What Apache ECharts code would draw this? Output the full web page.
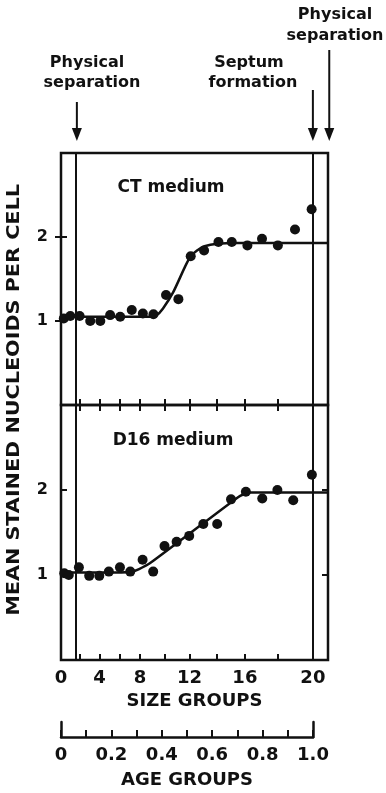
<!DOCTYPE html>
<html>
<head>
<meta charset="utf-8">
<script src="https://cdn.jsdelivr.net/npm/echarts@6/dist/echarts.min.js"></script>
<style>
html,body{margin:0;padding:0;background:#fff;}
#main{width:386px;height:793px;}
</style>
</head>
<body>
<div id="main"></div>
<script>
// ---- data (x in AGE GROUP units, the linear scale; y = mean nucleoids per cell) ----
const sizeTickAge = [0.074, 0.153, 0.232, 0.314, 0.411, 0.510, 0.618, 0.730, 0.859, 1.0];
const sizeLabelAge = [0, 0.153, 0.314, 0.510, 0.730, 1.0];
const sizeLabels = ['0', '4', '8', '12', '16', '20'];
const ageLabelValues = [0, 0.2, 0.4, 0.6, 0.8, 1.0];
const ageLabels = ['0', '0.2', '0.4', '0.6', '0.8', '1.0'];
const yTickValues = [1, 2];

const physSepAge = 0.063;
const septumAge = 1.0;
const nextSepAge = 1.065;

const ctAge = [0.011, 0.037, 0.074, 0.116, 0.156, 0.195, 0.235, 0.281, 0.325, 0.367, 0.417, 0.466, 0.515, 0.568, 0.625, 0.678, 0.740, 0.798, 0.861, 0.929, 0.995];
const ctValue = [1.03, 1.06, 1.06, 1.00, 1.00, 1.07, 1.05, 1.13, 1.09, 1.08, 1.31, 1.26, 1.77, 1.84, 1.94, 1.94, 1.90, 1.98, 1.90, 2.09, 2.33];
const ctFitAge = [0, 0.355, 0.38, 0.405, 0.445, 0.493, 0.515, 0.54, 0.57, 0.62, 0.70, 1.06];
const ctFitValue = [1.05, 1.05, 1.07, 1.15, 1.34, 1.65, 1.77, 1.84, 1.89, 1.92, 1.93, 1.93];

const d16Age = [0.013, 0.031, 0.071, 0.112, 0.152, 0.190, 0.234, 0.275, 0.324, 0.366, 0.411, 0.459, 0.509, 0.565, 0.620, 0.675, 0.734, 0.799, 0.859, 0.922, 0.996];
const d16Value = [1.02, 1.00, 1.09, 0.99, 0.99, 1.04, 1.09, 1.04, 1.18, 1.04, 1.34, 1.39, 1.46, 1.60, 1.60, 1.89, 1.98, 1.90, 2.00, 1.88, 2.18];
const d16FitAge = [0, 0.24, 0.28, 0.31, 0.354, 0.70, 0.725, 0.75, 1.06];
const d16FitValue = [1.03, 1.03, 1.04, 1.07, 1.14, 1.91, 1.95, 1.97, 1.97];

const X_MAX = 1.06;
const FONT = 'DejaVu Sans';
const INK = '#111';

function zip(a, b) { return a.map((v, i) => [v, b[i]]); }
function nearest(arr, v) {
  let bi = 0, bd = Infinity;
  arr.forEach((a, i) => { const d = Math.abs(a - v); if (d < bd) { bd = d; bi = i; } });
  return bi;
}

const chart = echarts.init(document.getElementById('main'), null, {renderer: 'canvas'});

const tickStyle = {color: INK, width: 2};
function sizeAxis(gridIndex, position, withLabels) {
  const ax = {
    type: 'value', gridIndex: gridIndex, position: position, min: 0, max: X_MAX,
    axisLine: {show: false},
    splitLine: {show: false},
    axisTick: {show: true, inside: true, length: 6, customValues: sizeTickAge, lineStyle: tickStyle},
    axisLabel: {show: false}
  };
  if (withLabels) {
    ax.axisLabel = {
      show: true, customValues: sizeLabelAge, margin: 9,
      color: INK, fontFamily: FONT, fontWeight: 'bold', fontSize: 18,
      formatter: v => sizeLabels[nearest(sizeLabelAge, v)]
    };
    ax.name = 'SIZE GROUPS';
    ax.nameLocation = 'middle';
    ax.nameGap = 32;
    ax.nameTextStyle = {color: INK, fontFamily: FONT, fontWeight: 'bold', fontSize: 18};
  }
  return ax;
}
function valAxis(gridIndex, position, withLabels) {
  return {
    type: 'value', gridIndex: gridIndex, position: position, min: 0, max: 3,
    axisLine: {show: false}, splitLine: {show: false},
    axisTick: {show: true, inside: true, length: 6, customValues: yTickValues, lineStyle: tickStyle},
    axisLabel: withLabels ? {show: true, customValues: yTickValues, margin: 13, color: INK,
      fontFamily: FONT, fontWeight: 'bold', fontSize: 16} : {show: false}
  };
}
const vLines = {
  silent: true, symbol: ['none', 'none'], label: {show: false},
  lineStyle: {color: INK, width: 2, type: 'solid', opacity: 1},
  emphasis: {disabled: true},
  data: [{xAxis: physSepAge}, {xAxis: septumAge}]
};

const option = {
  animation: false,
  backgroundColor: '#fff',
  grid: [
    {left: 61, top: 153, width: 267, height: 252, show: true, borderColor: INK, borderWidth: 2.5, backgroundColor: 'transparent'},
    {left: 61, top: 405, width: 267, height: 255, show: true, borderColor: INK, borderWidth: 2.5, backgroundColor: 'transparent'},
    {left: 61, top: 722, width: 252, height: 15, show: false}
  ],
  xAxis: [
    sizeAxis(0, 'bottom', false),
    sizeAxis(0, 'top', false),
    sizeAxis(1, 'bottom', true),
    {
      type: 'value', gridIndex: 2, position: 'bottom', min: 0, max: 1, interval: 0.1,
      axisLine: {show: true, lineStyle: {color: INK, width: 2.5}},
      splitLine: {show: false},
      axisTick: {show: true, inside: true, length: 7, lineStyle: tickStyle},
      axisLabel: {show: true, customValues: ageLabelValues, margin: 9, color: INK,
        fontFamily: FONT, fontWeight: 'bold', fontSize: 18,
        formatter: v => ageLabels[nearest(ageLabelValues, v)]},
      name: 'AGE GROUPS', nameLocation: 'middle', nameGap: 34,
      nameTextStyle: {color: INK, fontFamily: FONT, fontWeight: 'bold', fontSize: 18}
    }
  ],
  yAxis: [
    valAxis(0, 'left', true),
    valAxis(0, 'right', false),
    valAxis(1, 'left', true),
    valAxis(1, 'right', false),
    {type: 'value', gridIndex: 2, position: 'left', min: 0, max: 1,
      axisLine: {show: true, lineStyle: {color: INK, width: 2.5}}, axisTick: {show: false},
      axisLabel: {show: false}, splitLine: {show: false}},
    {type: 'value', gridIndex: 2, position: 'right', min: 0, max: 1,
      axisLine: {show: true, lineStyle: {color: INK, width: 2.5}}, axisTick: {show: false},
      axisLabel: {show: false}, splitLine: {show: false}}
  ],
  series: [
    {type: 'line', name: 'CT fit', xAxisIndex: 0, yAxisIndex: 0, data: zip(ctFitAge, ctFitValue),
      showSymbol: false, smooth: 0.2, lineStyle: {color: INK, width: 2.5},
      markLine: vLines, z: 3},
    {type: 'scatter', name: 'CT medium', xAxisIndex: 0, yAxisIndex: 0, data: zip(ctAge, ctValue),
      symbol: 'circle', symbolSize: 10, itemStyle: {color: INK, opacity: 1}, z: 4},
    {type: 'line', name: 'D16 fit', xAxisIndex: 2, yAxisIndex: 2, data: zip(d16FitAge, d16FitValue),
      showSymbol: false, smooth: 0.2, lineStyle: {color: INK, width: 2.5},
      markLine: vLines, z: 3},
    {type: 'scatter', name: 'D16 medium', xAxisIndex: 2, yAxisIndex: 2, data: zip(d16Age, d16Value),
      symbol: 'circle', symbolSize: 10, itemStyle: {color: INK, opacity: 1}, z: 4}
  ]
};
chart.setOption(option);

// ---- annotations (arrows placed at the marker ages through the axis scale) ----
const toX = a => chart.convertToPixel({xAxisIndex: 0}, a);
const tipY = 141;
function arrow(age, topY) {
  const x = toX(age);
  return {
    type: 'group', silent: true, children: [
      {type: 'line', shape: {x1: x, y1: topY, x2: x, y2: tipY - 10}, style: {stroke: INK, lineWidth: 2}},
      {type: 'polygon', shape: {points: [[x - 5, tipY - 13], [x + 5, tipY - 13], [x, tipY]]}, style: {fill: INK}}
    ]
  };
}
function label(text, x, y, size) {
  return {type: 'text', silent: true, x: x, y: y,
    style: {text: text, fill: INK, font: 'bold ' + (size || 16) + 'px "' + FONT + '"',
      textAlign: 'center', textVerticalAlign: 'middle'}};
}
chart.setOption({
  graphic: [
    arrow(physSepAge, 102),
    arrow(septumAge, 90),
    arrow(nextSepAge, 50),
    label('Physical', 87, 63),
    label('separation', 92, 83),
    label('Septum', 249, 63),
    label('formation', 253, 83),
    label('Physical', 335, 15),
    label('separation', 335, 36),
    label('CT medium', 171, 188, 17),
    label('D16 medium', 173, 441, 17),
    {type: 'text', silent: true, x: 14, y: 400, rotation: Math.PI / 2, scaleX: 1.15,
      style: {text: 'MEAN STAINED NUCLEOIDS PER CELL', fill: INK, font: 'bold 18px "' + FONT + '"',
        textAlign: 'center', textVerticalAlign: 'middle'}}
  ]
});
</script>
</body>
</html>
